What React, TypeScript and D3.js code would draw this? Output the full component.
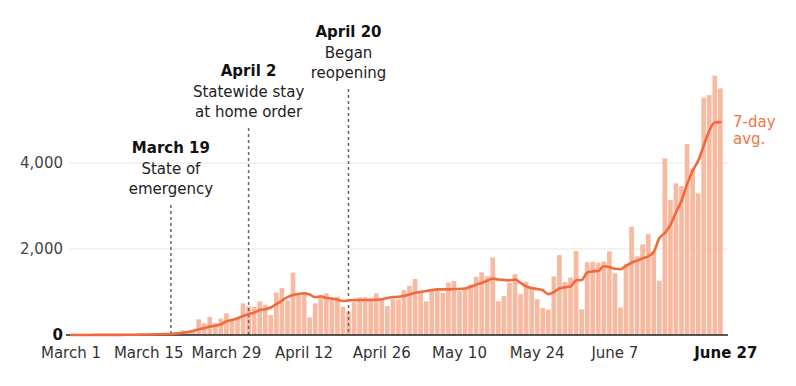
import React, { useEffect, useRef } from "react";
import * as d3 from "d3";

// Daily new cases, March 1 to June 26 (one value per day)
const dailyCases = [
    0, 0, 0, 0, 1, 1, 0, 2, 3, 3,
    5, 6, 8, 12, 15, 20, 25, 35, 45, 60,
    108, 70, 85, 364, 271, 418, 279, 380, 504, 364,
    395, 736, 665, 659, 780, 705, 465, 988, 1092, 800,
    1449, 930, 969, 411, 736, 891, 969, 853, 891, 659,
    543, 760, 876, 876, 853, 969, 853, 674, 829, 829,
    1046, 1139, 1302, 995, 785, 1046, 1062, 975, 1217, 1255,
    1020, 1080, 1175, 1356, 1457, 1365, 1806, 785, 907, 1217,
    1414, 950, 1240, 1085, 833, 628, 590, 1365, 1860, 1232,
    1337, 1953, 597, 1690, 1705, 1680, 1710, 1945, 1434, 643,
    1647, 2519, 1830, 2108, 2348, 1950, 1263, 4108, 3139, 3526,
    3464, 4441, 3875, 3294, 5518, 5580, 6030, 5735,
];

// 7-day average
const avgCases = [
    1, 1, 1, 1, 2, 2, 2, 3, 3, 4,
    5, 6, 8, 10, 12, 15, 18, 21, 24, 35,
    46, 70, 95, 130, 160, 195, 215, 248, 320, 350,
    390, 440, 485, 520, 580, 600, 640, 720, 800, 880,
    930, 955, 970, 940, 880, 900, 860, 850, 820, 790,
    805, 810, 815, 815, 815, 820, 830, 860, 880, 890,
    910, 940, 980, 1000, 1025, 1045, 1060, 1060, 1060, 1070,
    1070, 1080, 1120, 1170, 1210, 1260, 1310, 1290, 1280, 1270,
    1290, 1210, 1130, 1090, 1070, 1040, 950, 1000, 1080, 1110,
    1130, 1270, 1280, 1450, 1480, 1490, 1600, 1580, 1540, 1530,
    1610, 1680, 1730, 1780, 1830, 1930, 2250, 2370, 2560, 2850,
    3120, 3500, 3820, 4050, 4400, 4750, 4940, 4950,
];

const yTicks = [0, 2000, 4000];

const xTickDates = ["2020-03-01", "2020-03-15", "2020-03-29", "2020-04-12", "2020-04-26", "2020-05-10", "2020-05-24", "2020-06-07", "2020-06-27"];
const xTickLabels = ["March 1", "March 15", "March 29", "April 12", "April 26", "May 10", "May 24", "June 7", "June 27"];

const eventDates = ["2020-03-19", "2020-04-02", "2020-04-20"];
const eventTitles = ["March 19", "April 2", "April 20"];
const eventLines = [["State of", "emergency"], ["Statewide stay", "at home order"], ["Began", "reopening"]];
const eventTop = [153, 76, 37]; // baseline of the bold title

const avgLabel = ["7-day", "avg."];

const App = () => {
    const svgRef = useRef(null);

    useEffect(() => {
        const width = 796;
        const height = 386;
        const font = "DejaVu Sans, sans-serif";
        const parse = d3.timeParse("%Y-%m-%d");
        const start = parse("2020-03-01");
        const dates = dailyCases.map((_, i) => d3.timeDay.offset(start, i));

        const svg = d3.select(svgRef.current);
        svg.selectAll("*").remove();
        svg.attr("width", width).attr("height", height);

        const x = d3.scaleTime()
            .domain([start, parse("2020-06-27")])
            .range([71, 71 + 118 * 5.55]);

        const y = d3.scaleLinear()
            .domain([0, 6000])
            .range([335, 77]);

        const bw = 4.7;

        // gridlines
        svg.append("g")
            .selectAll("line")
            .data(yTicks.filter((d) => d > 0))
            .enter()
            .append("line")
            .attr("x1", 70)
            .attr("x2", 728)
            .attr("y1", (d) => y(d))
            .attr("y2", (d) => y(d))
            .attr("stroke", "#e6e4dc")
            .attr("stroke-width", 1);

        // y labels
        svg.append("g")
            .selectAll("text")
            .data(yTicks)
            .enter()
            .append("text")
            .attr("x", 63)
            .attr("y", (d) => y(d))
            .attr("dy", "0.35em")
            .attr("text-anchor", "end")
            .attr("font-family", font)
            .attr("font-size", 15)
            .attr("font-weight", (d) => (d === 0 ? "bold" : "normal"))
            .attr("fill", (d) => (d === 0 ? "#111" : "#444"))
            .text((d) => d3.format(",")(d));

        // bars
        svg.append("g")
            .selectAll("rect")
            .data(dailyCases)
            .enter()
            .append("rect")
            .attr("x", (d, i) => x(dates[i]) - bw / 2)
            .attr("y", (d) => y(d))
            .attr("width", bw)
            .attr("height", (d) => y(0) - y(d))
            .attr("fill", "#f8b9a1");

        // event dashed lines
        svg.append("g")
            .selectAll("line")
            .data(eventDates)
            .enter()
            .append("line")
            .attr("x1", (d) => x(parse(d)))
            .attr("x2", (d) => x(parse(d)))
            .attr("y1", (d, i) => eventTop[i] + 52)
            .attr("y2", 335)
            .attr("stroke", "#666")
            .attr("stroke-width", 1.5)
            .attr("stroke-dasharray", "3,3");

        // baseline
        svg.append("line")
            .attr("x1", 66)
            .attr("x2", 728)
            .attr("y1", y(0))
            .attr("y2", y(0))
            .attr("stroke", "#222")
            .attr("stroke-width", 1.5);

        // 7-day average
        const line = d3.line()
            .x((d, i) => x(dates[i]))
            .y((d) => y(d))
            .curve(d3.curveMonotoneX);

        svg.append("path")
            .datum(avgCases)
            .attr("d", line)
            .attr("fill", "none")
            .attr("stroke", "#f26a3c")
            .attr("stroke-width", 2.6)
            .attr("stroke-linecap", "round");

        svg.append("g")
            .selectAll("text")
            .data(avgLabel)
            .enter()
            .append("text")
            .attr("x", 733)
            .attr("y", (d, i) => 127 + i * 17)
            .attr("font-family", font)
            .attr("font-size", 15)
            .attr("fill", "#f07445")
            .text((d) => d);

        // x labels
        svg.append("g")
            .selectAll("text")
            .data(xTickDates)
            .enter()
            .append("text")
            .attr("x", (d) => x(parse(d)))
            .attr("y", 358)
            .attr("text-anchor", "middle")
            .attr("font-family", font)
            .attr("font-size", 15)
            .attr("font-weight", (d, i) => (i === xTickDates.length - 1 ? "bold" : "normal"))
            .attr("fill", (d, i) => (i === xTickDates.length - 1 ? "#111" : "#333"))
            .text((d, i) => xTickLabels[i]);

        // annotations
        const notes = svg.append("g")
            .selectAll("g")
            .data(eventDates)
            .enter()
            .append("g")
            .attr("transform", (d, i) => `translate(${x(parse(d))}, ${eventTop[i]})`);

        notes.append("text")
            .attr("text-anchor", "middle")
            .attr("font-family", font)
            .attr("font-size", 15)
            .attr("font-weight", "bold")
            .attr("fill", "#111")
            .text((d, i) => eventTitles[i]);

        notes.each(function (d, i) {
            d3.select(this)
                .selectAll("text.sub")
                .data(eventLines[i])
                .enter()
                .append("text")
                .attr("class", "sub")
                .attr("y", (s, j) => 20.5 * (j + 1))
                .attr("text-anchor", "middle")
                .attr("font-family", font)
                .attr("font-size", 15)
                .attr("fill", "#222")
                .text((s) => s);
        });
    }, []);

    return <svg ref={svgRef} style={{ position: "absolute", left: 0, top: 0 }}></svg>;
};

export default App;
